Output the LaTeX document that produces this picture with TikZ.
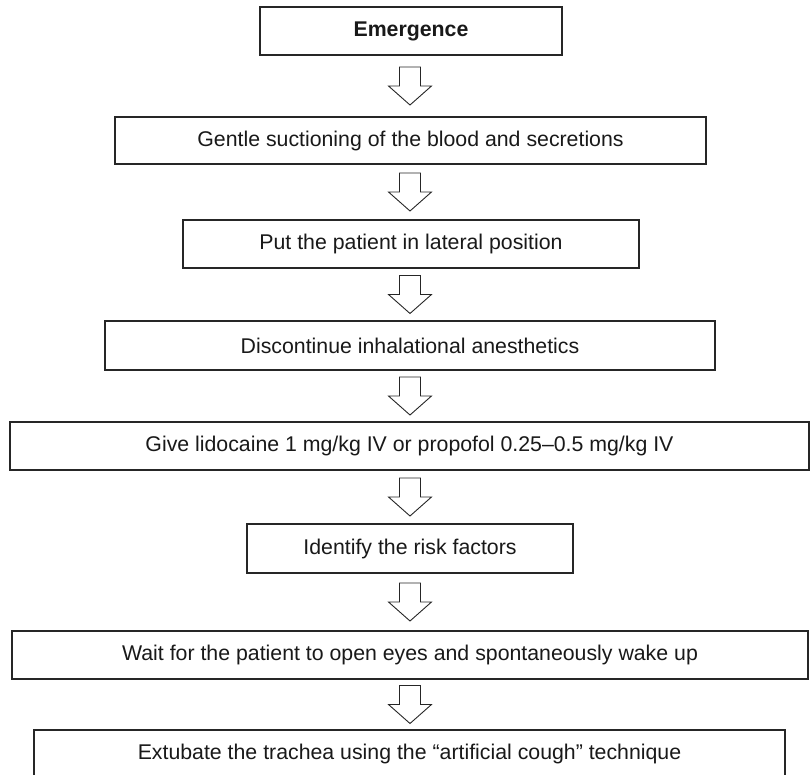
\documentclass[tikz,border=0pt]{standalone}
\usepackage{fontspec}
\setmainfont{Liberation Sans}
\usetikzlibrary{calc}
\tikzset{
  stepbox/.style={draw=black!85, line width=1.6pt, fill=white, inner sep=0pt, text=black!90, font=\fontsize{21.3}{25}\selectfont},
  blockarrow/.style={draw=black!85, line width=0.9pt, fill=white, line join=miter}
}
\newcommand\flowarrow[2]{%
  \path let \p1=(#1.south), \p2=(#2.north), \n1={0.5*(\y1+\y2)} in
    [blockarrow] (410-10.5,\n1+19) -- (410+10.5,\n1+19) -- (410+10.5,\n1) -- (410+21.5,\n1)
    -- (410,\n1-19) -- (410-21.5,\n1) -- (410-10.5,\n1) -- cycle;}
\begin{document}
\begin{tikzpicture}[x=1pt,y=-1pt]
\useasboundingbox (0,0) rectangle (811,775);
\node[stepbox, minimum width=302pt, minimum height=48pt] (b1) at (411,31) {\bfseries Emergence};
\node[stepbox, minimum width=591pt, minimum height=47pt] (b2) at (410.5,140.5) {Gentle suctioning of the blood and secretions};
\node[stepbox, minimum width=456pt, minimum height=48pt] (b3) at (411,244) {Put the patient in lateral position};
\node[stepbox, minimum width=610pt, minimum height=49pt] (b4) at (410,345.5) {Discontinue inhalational anesthetics};
\node[stepbox, minimum width=799pt, minimum height=48pt] (b5) at (409.5,446) {Give lidocaine 1 mg/kg IV or propofol 0.25--0.5 mg/kg IV};
\node[stepbox, minimum width=326pt, minimum height=49pt] (b6) at (410,548.5) {Identify the risk factors};
\node[stepbox, minimum width=796pt, minimum height=48pt] (b7) at (410,655) {Wait for the patient to open eyes and spontaneously wake up};
\node[stepbox, minimum width=751pt, minimum height=48pt] (b8) at (409.5,754) {Extubate the trachea using the “artificial cough” technique};
\flowarrow{b1}{b2}
\flowarrow{b2}{b3}
\flowarrow{b3}{b4}
\flowarrow{b4}{b5}
\flowarrow{b5}{b6}
\flowarrow{b6}{b7}
\flowarrow{b7}{b8}
\end{tikzpicture}
\end{document}
